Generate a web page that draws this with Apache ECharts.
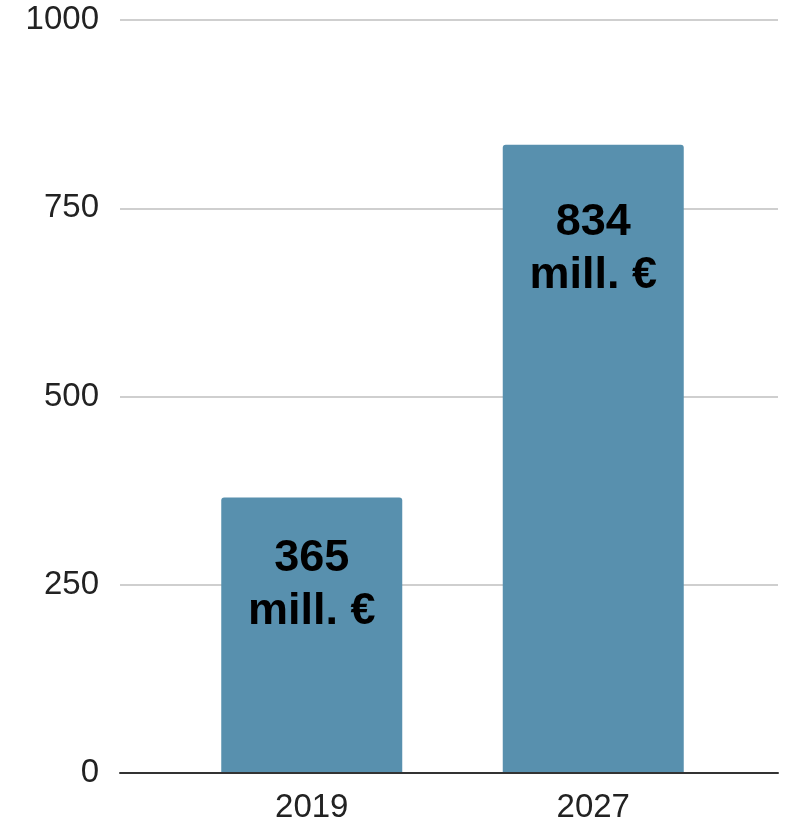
<!DOCTYPE html>
<html>
<head>
<meta charset="utf-8">
<script src="https://cdn.jsdelivr.net/npm/echarts@6/dist/echarts.min.js"></script>
<style>html,body{margin:0;padding:0;background:#fff;}#c{width:795px;height:824px;}</style>
</head>
<body>
<div id="c"></div>
<script>
const categories = ['2019', '2027'];
const values = [365, 834];
const labelLines = ['mill. €', 'mill. €'];
const yTicks = [0, 250, 500, 750, 1000];

const chart = echarts.init(document.getElementById('c'), null, {renderer: 'canvas'});
const labelOffsets = [[0, 30], [0, 46]];
const option = {
  animation: false,
  backgroundColor: '#fff',
  grid: [
    {left: 120, right: 17, top: 20, bottom: 51},
    {left: 171, right: 61, top: 20, bottom: 51}
  ],
  xAxis: [
    {gridIndex: 0, type: 'value', min: 0, max: 1, show: true,
     axisLine: {show: true, onZero: false, lineStyle: {color: '#333', width: 2}},
     axisTick: {show: false}, axisLabel: {show: false}, splitLine: {show: false}},
    {gridIndex: 1, type: 'category', data: categories,
     axisLine: {show: false}, axisTick: {show: false},
     axisLabel: {fontFamily: 'Liberation Sans', fontSize: 33, color: '#222', margin: 19}}
  ],
  yAxis: [
    {gridIndex: 0, type: 'value', min: yTicks[0], max: yTicks[yTicks.length - 1], interval: 250,
     axisLine: {show: false}, axisTick: {show: false},
     axisLabel: {fontFamily: 'Liberation Sans', fontSize: 33, color: '#222', margin: 21,
                 formatter: v => String(v)},
     splitLine: {show: true, lineStyle: {color: '#cfcfcf', width: 2}}},
    {gridIndex: 1, type: 'value', min: 0, max: 1000, show: false}
  ],
  series: [{
    type: 'bar',
    xAxisIndex: 1, yAxisIndex: 1,
    barWidth: 181,
    z: 5,
    itemStyle: {color: '#5890ae', borderRadius: [3, 3, 0, 0]},
    data: values.map((v, i) => ({
      value: v,
      label: {
        show: true, position: 'insideTop', offset: labelOffsets[i],
        formatter: '{a|' + v + '}\n{a|' + labelLines[i] + '}',
        rich: {a: {fontFamily: 'Liberation Sans', fontWeight: 'bold', fontSize: 45, lineHeight: 53, color: '#000'}}
      }
    }))
  }]
};
chart.setOption(option);
</script>
</body>
</html>
